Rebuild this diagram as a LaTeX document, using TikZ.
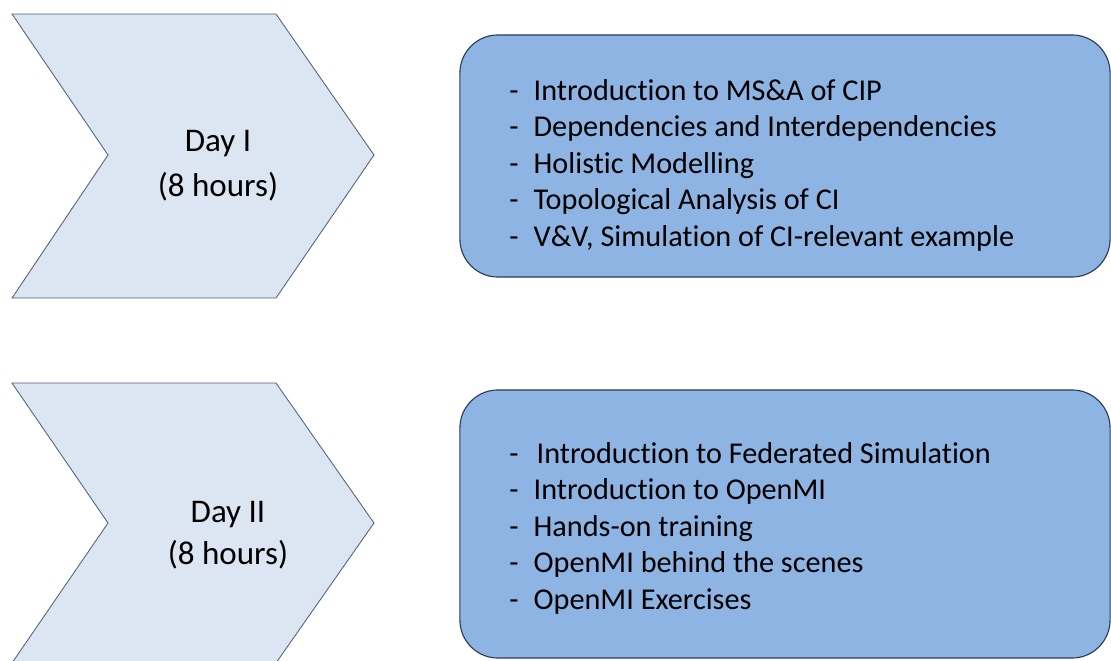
\documentclass[tikz,border=0pt]{standalone}
\usepackage{fontspec}
\setmainfont{Carlito}[Ligatures=NoCommon]
\usepackage{xcolor}
\usepackage{tikz}
\usetikzlibrary{positioning}
\definecolor{chevFill}{RGB}{220,230,242}
\definecolor{chevLine}{RGB}{80,96,120}
\definecolor{boxFill}{RGB}{142,180,227}
\definecolor{boxLine}{RGB}{45,60,85}

\begin{document}
\begin{tikzpicture}[
      x=0.025cm, y=-0.025cm,
      chevron/.style={fill=chevFill, draw=chevLine, line width=0.6pt, line join=miter},
      topicbox/.style={fill=boxFill, draw=boxLine, line width=0.8pt, rounded corners=0.95cm,
                       minimum width=16.25cm, minimum height=6.05cm, inner sep=0},
      daytext/.style={align=center, font=\fontsize{23.5}{32}\selectfont},
      topics/.style={align=left, anchor=north west, inner sep=0, font=\fontsize{21.5}{26}\selectfont}
    ]

    \useasboundingbox (0,0) rectangle (1111,661);

    % -------- DAY I --------
    \draw[chevron] (12,14) -- (276,14) -- (374,155) -- (276,298) -- (12,298) -- (108,155) -- cycle;
    \node[daytext] (day1) at (218,166) {Day I\\(8 hours)};

    \node[topicbox] (box1) at (785,156) {};
    \node[topics] (list1) at (509,79)
      {-\hspace{0.5em}Introduction to MS\&A of CIP\\
       -\hspace{0.5em}Dependencies and Interdependencies\\
       -\hspace{0.5em}Holistic Modelling\\
       -\hspace{0.5em}Topological Analysis of CI\\
       -\hspace{0.5em}V\&V, Simulation of CI-relevant example};

    % -------- DAY II --------
    \draw[chevron] (12,383) -- (276,383) -- (374,523) -- (276,663) -- (12,663) -- (108,523) -- cycle;
    \node[daytext, font=\fontsize{23.5}{30}\selectfont] (day2) at (228,535) {Day II\\(8 hours)};

    \node[topicbox, minimum height=6.7cm] (box2) at (785,524) {};
    \node[topics] (list2) at (509,442)
      {-\hspace{0.6em}Introduction to Federated Simulation\\
       -\hspace{0.5em}Introduction to OpenMI\\
       -\hspace{0.5em}Hands-on training\\
       -\hspace{0.5em}OpenMI behind the scenes\\
       -\hspace{0.5em}OpenMI Exercises};

\end{tikzpicture}
\end{document}
